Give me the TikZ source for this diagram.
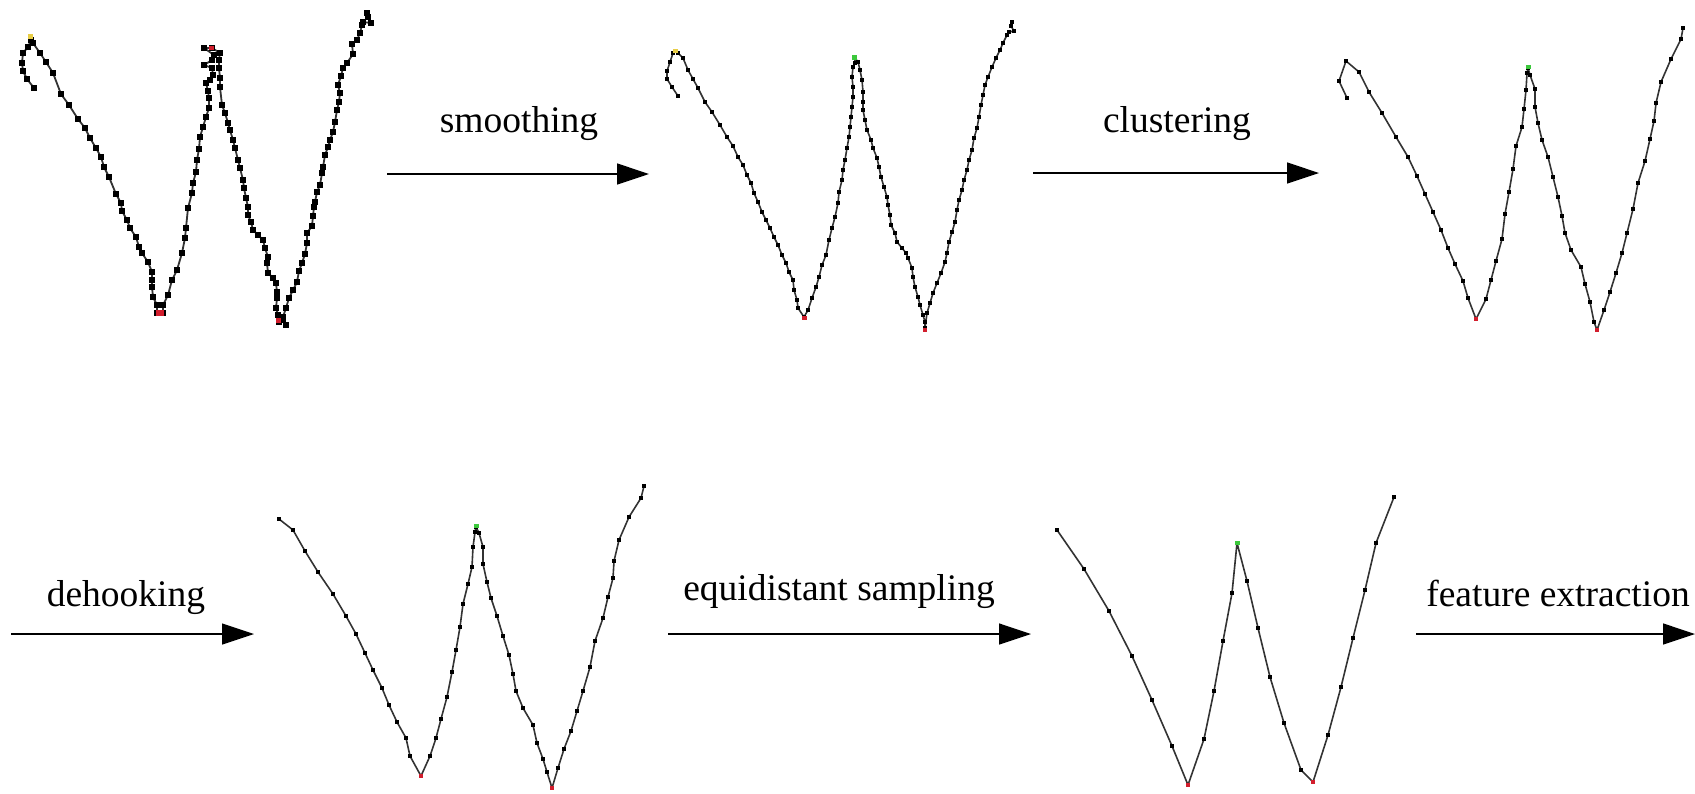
\documentclass[tikz,border=0pt]{standalone}
\usepackage{fontspec}
\setmainfont{Liberation Serif}
\usetikzlibrary{arrows.meta}
\newcommand\dotr{1.15pt}
\newcommand\wstroke[3]{%
  \draw[pen] (#1,#2) foreach \x/\y in #3 { -- (\x,\y) };
  \fill[dot] (#1,#2) ++(-\dotr,-\dotr) rectangle ++(2*\dotr,2*\dotr);
  \foreach \x/\y in #3 { \fill[dot] (\x,\y) ++(-\dotr,-\dotr) rectangle ++(2*\dotr,2*\dotr); }%
}
\begin{document}
\begin{tikzpicture}[x=0.5pt,y=-0.5pt,
  pen/.style={line width=0.8pt, draw=black!80, line join=round},
  dot/.style={fill=black},
  arr/.style={line width=0.65pt, draw=black, -{Triangle[length=16pt,width=10.5pt]}},
  lbl/.style={font=\fontsize{18.75}{22}\selectfont, inner sep=0pt, anchor=base},
  ystart/.style={fill={rgb,255:red,232;green,205;blue,70}},
  gpeak/.style={fill={rgb,255:red,60;green,200;blue,60}},
  rvalley/.style={fill={rgb,255:red,210;green,30;blue,45}}]
\useasboundingbox (0,0) rectangle (1695,793);

% ---------- panel 1: raw
\def\ptsA{27/79, 23/71, 22/63, 23/53, 28/47, 31/40, 33/43, 40/53, 46/62, 53/73, 61/94, 69/105, 78/119, 85/128, 90/138, 96/148, 101/157, 104/167, 109/177, 116/194, 121/203, 122/211, 127/220, 130/228, 136/237, 139/247, 142/253, 148/262, 152/272, 152/280, 152/287, 153/297, 157/305, 157/313, 163/313, 163/305, 168/295, 172/280, 177/270, 182/253, 185/238, 186/228, 188/208, 192/193, 193/183, 196/172, 197/160, 199/149, 200/137, 203/127, 206/117, 209/108, 209/98, 208/91, 206/83, 210/80, 213/75, 212/68, 204/65, 212/60, 214/55, 204/48, 212/48, 220/53, 219/60, 219/68, 220/78, 220/87, 222/105, 225/113, 228/123, 230/130, 233/140, 235/148, 238/160, 240/168, 243/180, 244/188, 246/198, 248/207, 248/215, 251/222, 253/230, 258/235, 263/240, 265/248, 268/257, 267/263, 268/273, 273/278, 276/283, 277/292, 277/298, 276/308, 278/315, 279/322, 283/320, 286/325, 283/317, 286/308, 289/298, 293/290, 297/282, 299/271, 302/263, 305/254, 307/243, 307/233, 312/226, 313/216, 314/207, 315/202, 317/192, 320/185, 322/173, 323/167, 325/155, 328/147, 330/140, 333/132, 335/122, 337/110, 339/102, 340/93, 338/85, 341/76, 343/68, 347/63, 353/54, 352/44, 357/40, 360/33, 362/25, 363/22, 371/23, 368/17, 367/13}
\begin{scope}[pen/.append style={line width=0.9pt}]
\renewcommand\dotr{1.3pt}
\wstroke{34}{88}{\ptsA}
\end{scope}
\fill[ystart] (27.5,33.5) rectangle (32.5,38.5);
\fill[rvalley] (156,310) rectangle (164,316);
\fill[rvalley] (209,46) rectangle (214,50);
\fill[rvalley] (276,318) rectangle (281,323);

% ---------- panel 2: smoothed
\def\ptsB{672/87, 667/79, 667/71, 670/62, 673/53, 675/51, 678/53, 683/58, 688/70, 693/79, 698/88, 705/102, 712/112, 720/125, 727/137, 733/146, 738/157, 743/165, 747/175, 751/183, 754/193, 758/202, 762/212, 766/220, 770/228, 774/237, 778/245, 782/255, 786/263, 789/272, 793/280, 794/290, 797/300, 798/308, 804/317, 808/310, 812/298, 816/287, 819/277, 822/265, 826/255, 829/240, 832/228, 835/217, 838/203, 839/192, 842/180, 843/170, 845/160, 847/148, 849/137, 850/127, 851/117, 852/107, 853/97, 853/87, 852/77, 853/67, 855/63, 855/58, 858/62, 860/70, 862/80, 863/92, 863/102, 863/110, 865/120, 867/130, 871/140, 873/148, 877/158, 879/167, 881/177, 884/187, 887/197, 888/205, 890/215, 891/225, 895/233, 897/242, 902/248, 906/253, 908/258, 912/268, 913/277, 915/287, 918/297, 920/305, 923/315, 925/322, 925/328, 927/313, 930/303, 933/293, 937/283, 941/273, 945/262, 947/253, 949/242, 952/232, 955/222, 957/210, 959/200, 962/190, 964/180, 967/170, 969/160, 972/150, 974/138, 977/128, 979/117, 981/105, 983/95, 985/85, 988/77, 992/67, 996/58, 1000/50, 1003/43, 1007/35, 1009/32, 1014/31, 1011/26, 1012/22}
\begin{scope}
\renewcommand\dotr{1.2pt}
\wstroke{678}{96}{\ptsB}
\end{scope}
\fill[ystart] (673,48.5) rectangle (677.5,53);
\fill[gpeak] (852,55) rectangle (857,60);
\fill[rvalley] (801.5,315.5) rectangle (806.5,320);
\fill[rvalley] (923,328) rectangle (927,332);

% ---------- panel 3: clustered
\def\ptsC{1339/81, 1346/61, 1359/72, 1369/92, 1382/113, 1396/137, 1408/157, 1417/176, 1425/194, 1433/212, 1441/230, 1448/248, 1455/264, 1463/281, 1468/298, 1476/319, 1486/299, 1491/280, 1496/261, 1502/239, 1505/214, 1509/192, 1513/169, 1516/146, 1522/127, 1524/109, 1526/90, 1527/73, 1528/68, 1530/75, 1535/89, 1535/107, 1538/123, 1542/140, 1548/157, 1553/177, 1558/197, 1562/216, 1565/233, 1571/250, 1581/267, 1585/284, 1590/302, 1594/322, 1597/330, 1604/310, 1610/292, 1616/273, 1622/253, 1627/233, 1633/209, 1638/183, 1645/161, 1650/139, 1654/121, 1656/103, 1661/82, 1671/59, 1681/39, 1683/28}
\wstroke{1347}{98}{\ptsC}
\fill[gpeak] (1526,64.5) rectangle (1530.5,69);
\fill[rvalley] (1474,317) rectangle (1478,321);
\fill[rvalley] (1595,328) rectangle (1599,332);

% ---------- panel 4: dehooked
\def\ptsD{293/530, 305/551, 318/572, 333/594, 346/616, 356/634, 365/653, 373/670, 382/688, 389/705, 397/722, 406/738, 410/756, 421/776, 430/756, 436/738, 441/719, 447/697, 452/672, 456/650, 460/627, 463/604, 468/584, 472/567, 473/547, 475/532, 476/527, 479/533, 483/547, 483/564, 487/582, 491/598, 497/616, 503/636, 509/655, 513/674, 516/691, 523/708, 533/725, 537/743, 543/759, 547/772, 552/788, 558/768, 564/749, 571/731, 577/711, 583/691, 590/667, 595/641, 603/618, 608/597, 613/578, 614/561, 619/540, 629/517, 641/498, 644/486}
\wstroke{279}{519}{\ptsD}
\fill[gpeak] (473.5,523.5) rectangle (478.5,528);
\fill[rvalley] (419,774) rectangle (423,778);
\fill[rvalley] (550,786) rectangle (554,790);

% ---------- panel 5: equidistant
\def\ptsE{1084/569, 1109/611, 1132/656, 1152/700, 1172/746, 1188/785, 1204/739, 1214/691, 1223/641, 1232/593, 1237/543, 1247/581, 1258/628, 1270/677, 1284/723, 1301/770, 1313/782, 1328/735, 1341/687, 1353/638, 1365/590, 1376/543, 1394/497}
\wstroke{1057}{530}{\ptsE}
\fill[gpeak] (1234.5,540.5) rectangle (1239.5,545);
\fill[rvalley] (1186,783) rectangle (1190,787);
\fill[rvalley] (1311,780) rectangle (1315,784);

% ---------- arrows and labels
\coordinate (a1s) at (387,174); \coordinate (a1e) at (649,174);
\coordinate (a2s) at (1033,173); \coordinate (a2e) at (1319,173);
\coordinate (a3s) at (11,634); \coordinate (a3e) at (254,634);
\coordinate (a4s) at (668,634); \coordinate (a4e) at (1031,634);
\coordinate (a5s) at (1416,634); \coordinate (a5e) at (1695,634);
\draw[arr] (a1s) -- (a1e);
\draw[arr] (a2s) -- (a2e);
\draw[arr] (a3s) -- (a3e);
\draw[arr] (a4s) -- (a4e);
\draw[arr] (a5s) -- (a5e);
\node[lbl] (l1) at (519,132) {smoothing};
\node[lbl] (l2) at (1177,132) {clustering};
\node[lbl] (l3) at (126,606) {dehooking};
\node[lbl] (l4) at (839,600) {equidistant sampling};
\node[lbl] (l5) at (1558,606) {feature extraction};
\end{tikzpicture}
\end{document}
